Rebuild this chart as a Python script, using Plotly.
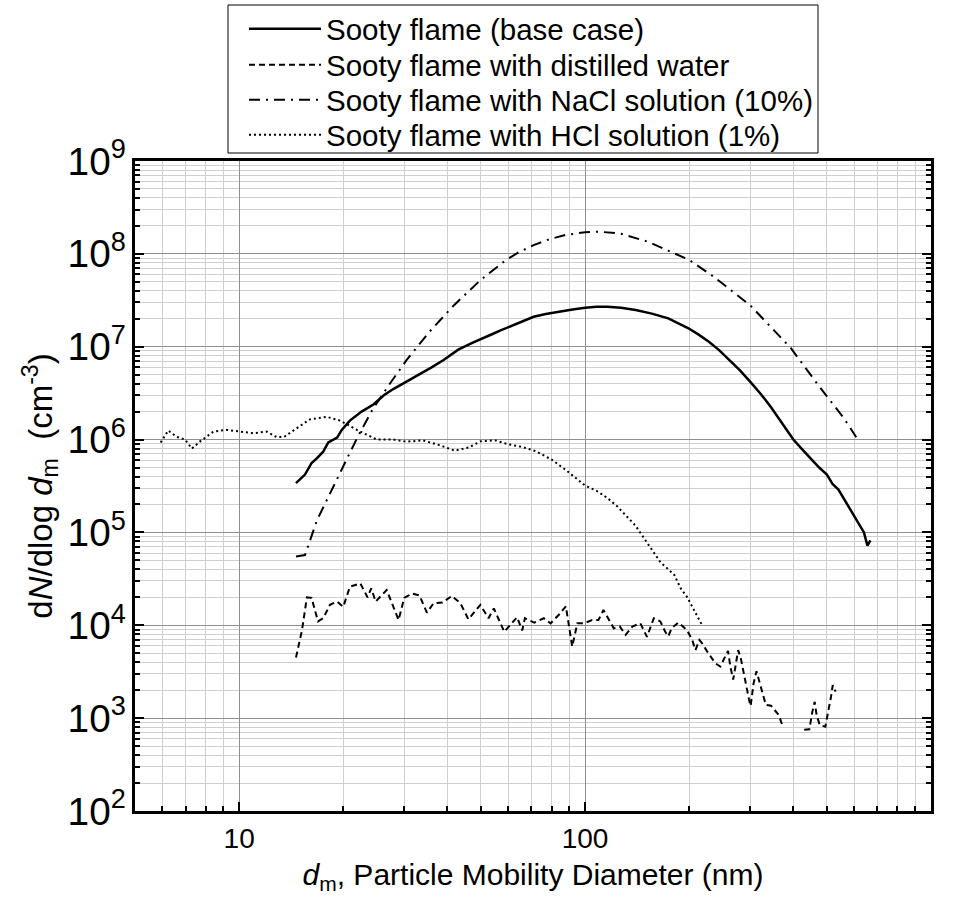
import math
import plotly.graph_objects as go

# ---------------- data ----------------
base_x = [14.6, 15.5, 16.2, 16.8, 17.5, 18.1, 19.2, 19.8, 20.9, 22.0, 22.6, 24.5, 26.2, 27.9,
          30.5, 33.1, 36.0, 39.0, 43.0, 47.2, 50.5, 54.0, 57.0, 60.3, 65.0, 71.0, 77.0, 83.6,
          92.0, 100, 108, 116, 127, 140, 156, 174, 186, 199, 213, 228, 244, 262, 280, 300,
          322, 344, 362, 380, 400, 425, 450, 475, 500, 520, 540, 560, 580, 600, 620, 640, 655, 668]
base_y = [3.4e5, 4.2e5, 5.6e5, 6.3e5, 7.4e5, 9.3e5, 1.05e6, 1.27e6, 1.6e6, 1.85e6, 2.0e6, 2.4e6,
          3.0e6, 3.5e6, 4.2e6, 5.0e6, 6.0e6, 7.2e6, 9.3e6, 1.1e7, 1.24e7, 1.37e7, 1.5e7, 1.64e7,
          1.85e7, 2.1e7, 2.25e7, 2.38e7, 2.52e7, 2.63e7, 2.7e7, 2.7e7, 2.63e7, 2.48e7, 2.27e7,
          2.02e7, 1.8e7, 1.58e7, 1.35e7, 1.13e7, 9.2e6, 7.2e6, 5.6e6, 4.2e6, 3.1e6, 2.26e6,
          1.7e6, 1.3e6, 1.0e6, 7.8e5, 6.2e5, 5.0e5, 4.2e5, 3.3e5, 2.9e5, 2.3e5, 1.9e5, 1.5e5,
          1.2e5, 1.0e5, 7.2e4, 8.2e4]

water_x = [14.6, 15.2, 15.7, 16.2, 16.9, 17.5, 18.3, 19.2, 20.0, 20.9, 22.4, 23.5, 24.1, 24.8,
           26.7, 28.9, 30.0, 31.6, 33.2, 34.9, 36.5, 38.7, 41.2, 43.6, 46.0, 49.8, 52.6, 54.5,
           58.4, 63.6, 65.8, 67.0, 71.3, 76.0, 79.5, 84.0, 88.0, 91.8, 95.0, 99.4, 104.8, 109.3,
           113, 121, 126, 131, 137, 144.5, 151, 158, 165, 170.5, 174, 178, 186, 197, 204, 208.5,
           214, 218, 225.6, 238, 246, 255, 259, 263, 268, 271, 277, 282, 288, 298, 301, 307,
           313, 323, 333, 345, 363, 373, 400, 430, 445, 454, 461, 467, 477, 495, 505, 514, 520, 530]
water_y = [4.5e3, 8.9e3, 2.0e4, 1.97e4, 1.1e4, 1.19e4, 1.66e4, 1.8e4, 1.58e4, 2.6e4, 2.83e4,
           2.0e4, 2.5e4, 1.8e4, 2.4e4, 1.14e4, 1.97e4, 2.2e4, 2.1e4, 1.37e4, 1.73e4, 1.76e4,
           2.07e4, 1.73e4, 1.16e4, 1.66e4, 1.19e4, 1.52e4, 8.5e3, 1.22e4, 8.8e3, 1.19e4, 1.07e4,
           1.19e4, 1.05e4, 1.3e4, 1.6e4, 5.9e3, 1.05e4, 1.05e4, 1.14e4, 1.14e4, 1.46e4, 9.3e3,
           9.7e3, 7.9e3, 9.7e3, 1.05e4, 7.5e3, 1.19e4, 1.1e4, 8.5e3, 7.6e3, 9.3e3, 1.07e4, 8.9e3,
           6.95e3, 5.4e3, 6.95e3, 6.4e3, 5.2e3, 3.9e3, 3.6e3, 4.6e3, 5.3e3, 3.6e3, 2.6e3, 3.3e3,
           5.4e3, 4.4e3, 2.9e3, 1.57e3, 1.35e3, 2.37e3, 3.2e3, 2.1e3, 1.39e3, 1.36e3, 1.08e3,
           8.1e2, None, 7.5e2, 7.6e2, 1.17e3, 1.5e3, 1.08e3, 8.4e2, 8.1e2, 1.15e3, 1.7e3, 2.27e3,
           1.93e3]

nacl_x = [14.6, 15.5, 16.8, 18.3, 20.0, 21.9, 24.3, 27.0, 30.5, 35.5, 41.8, 49.8, 58.6, 64.0,
          71, 79, 88, 100, 110, 126, 152, 200, 235, 300, 394, 476, 560, 620]
nacl_y = [5.5e4, 5.7e4, 1.36e5, 2.6e5, 5.1e5, 1.03e6, 2.1e6, 3.8e6, 7.2e6, 1.45e7, 2.8e7, 5.2e7,
          8.4e7, 1.03e8, 1.24e8, 1.44e8, 1.6e8, 1.71e8, 1.73e8, 1.66e8, 1.35e8, 8.6e7, 5.7e7,
          2.8e7, 9.6e6, 3.7e6, 1.7e6, 9.5e5]

hcl_x = [5.93, 6.24, 6.6, 6.98, 7.3, 7.7, 8.43, 9.2, 10.07, 11.0, 12.0, 12.85, 13.5, 14.7, 16.0,
         17.9, 19.6, 21.9, 25.0, 27.9, 30.5, 34, 38, 42, 46, 50, 55, 60, 66, 72, 80, 88, 95, 100,
         108, 116, 124, 132, 140, 148, 156, 165, 181, 189, 197, 207, 218]
hcl_y = [9.3e5, 1.25e6, 1.07e6, 1.0e6, 8.0e5, 9.5e5, 1.22e6, 1.27e6, 1.22e6, 1.17e6, 1.22e6,
         1.06e6, 1.07e6, 1.32e6, 1.65e6, 1.76e6, 1.6e6, 1.27e6, 1.0e6, 1.0e6, 9.5e5, 9.8e5,
         8.7e5, 7.6e5, 8.2e5, 9.6e5, 9.8e5, 8.9e5, 8.3e5, 7.5e5, 6.1e5, 4.7e5, 3.7e5, 3.2e5,
         2.8e5, 2.35e5, 1.9e5, 1.5e5, 1.18e5, 8.7e4, 6.5e4, 4.8e4, 3.5e4, 2.5e4, 2.03e4,
         1.46e4, 1.0e4]

names = ["Sooty flame (base case)", "Sooty flame with distilled water",
         "Sooty flame with NaCl solution (10%)", "Sooty flame with HCl solution (1%)"]

FONT = "Liberation Sans, Arial, sans-serif"

# plot area in pixels (for placing legend rows in paper coordinates)
L, R, T, B = 135, 931, 161, 811
PW, PH = R - L, B - T
def px_x(px):
    return (px - L) / PW
def px_y(py):
    return (B - py) / PH

legend_keys = ["legend", "legend2", "legend3", "legend4"]
row_y = [29, 65, 100, 135]

fig = go.Figure()
fig.add_trace(go.Scatter(x=base_x, y=base_y, mode="lines", name=names[0], legend=legend_keys[0],
                         line=dict(color="black", width=2.5)))
fig.add_trace(go.Scatter(x=water_x, y=water_y, mode="lines", name=names[1], connectgaps=False,
                         legend=legend_keys[1],
                         line=dict(color="black", width=2, dash="6px,4px")))
fig.add_trace(go.Scatter(x=nacl_x, y=nacl_y, mode="lines", name=names[2], legend=legend_keys[2],
                         line=dict(color="black", width=2, dash="11px,6px,2px,6px")))
fig.add_trace(go.Scatter(x=hcl_x, y=hcl_y, mode="lines", name=names[3], legend=legend_keys[3],
                         line=dict(color="black", width=2, dash="2px,3px")))

common = dict(
    showline=True, linewidth=3, linecolor="black",
    ticks="inside", ticklen=9, tickwidth=2, tickcolor="black",
    showgrid=True, gridcolor="#8f8f8f", gridwidth=1,
    minor=dict(dtick="D1", ticks="inside", ticklen=5, tickwidth=2, tickcolor="black",
               showgrid=True, gridcolor="#cfcfcf", gridwidth=1),
    zeroline=False,
)

fig.update_xaxes(type="log", range=[math.log10(5), 3], dtick=1, mirror=True,
                 tickfont=dict(size=28, family=FONT, color="black"),
                 title=dict(text="<i>d</i><sub>m</sub>, Particle Mobility Diameter (nm)",
                            font=dict(size=30, family=FONT, color="black"), standoff=12),
                 automargin=False, **common)
fig.update_yaxes(type="log", range=[2, 9], dtick=1, exponentformat="power", showexponent="all",
                 mirror="ticks",
                 tickfont=dict(size=31, family=FONT, color="black"),
                 title=dict(text="d<i>N</i>/dlog <i>d</i><sub>m</sub>  (cm<sup>-3</sup>)",
                            font=dict(size=33, family=FONT, color="black"), standoff=6),
                 automargin=False, **common)

layout_legends = {}
for key, ry in zip(legend_keys, row_y):
    layout_legends[key] = dict(x=px_x(244), y=px_y(ry), xanchor="left", yanchor="middle",
                               bgcolor="rgba(0,0,0,0)", borderwidth=0,
                               font=dict(size=29.5, family=FONT, color="black"), itemwidth=72)

fig.update_layout(
    width=960, height=900,
    margin=dict(l=L, r=960 - R, t=T, b=900 - B, autoexpand=False),
    paper_bgcolor="white", plot_bgcolor="white",
    font=dict(family=FONT, color="black", size=28),
    showlegend=True,
    shapes=[dict(type="rect", xref="paper", yref="paper",
                 x0=px_x(228), x1=px_x(818), y0=px_y(153), y1=px_y(5),
                 line=dict(color="black", width=1), fillcolor="white", layer="above")],
    **layout_legends,
)

fig.write_html("out.html")
